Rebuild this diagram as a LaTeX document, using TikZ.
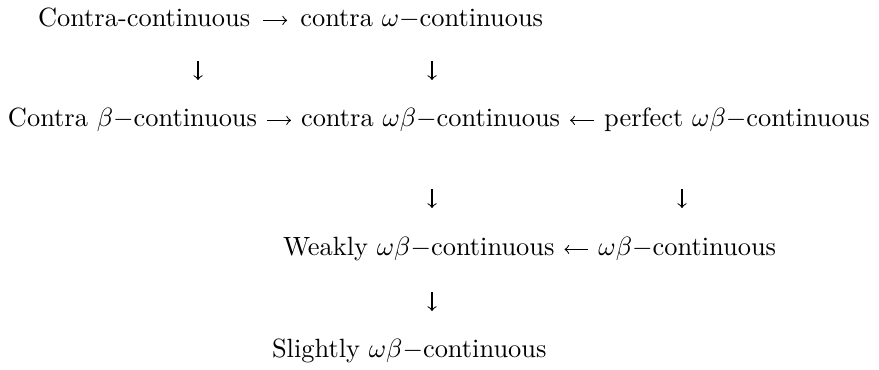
\documentclass[tikz,border=0pt]{standalone}
\usepackage{amsmath,amssymb}
\usetikzlibrary{positioning}

\begin{document}
\begin{tikzpicture}[
  x=0.3788pt, y=-0.3788pt,
  txt/.style={inner sep=0pt, outer sep=0pt},
  arrow/.style={->, line width=0.4pt},
  harrow/.style={arrow, shorten <=3.8pt, shorten >=3.8pt},
  node distance=16.67pt
]
\useasboundingbox (0,0) rectangle (879,370);

% ── Row 1 ────────────────────────────────────────────────────
\node[txt, anchor=base west] (cc)  at (38,27) {Contra-continuous};
\node[txt, base right=19pt of cc]  (cwc) {contra $\omega-$continuous};

% ── Row 2 ────────────────────────────────────────────────────
\node[txt, anchor=base west] (cbc)  at (8,127) {Contra $\beta-$continuous};
\node[txt, base right=of cbc]  (cwbc) {contra $\omega\beta-$continuous};
\node[txt, base right=of cwbc] (pwbc) {perfect $\omega\beta-$continuous};

% ── Row 3 ────────────────────────────────────────────────────
\node[txt, anchor=base west] (wwbc) at (283,256) {Weakly $\omega\beta-$continuous};
\node[txt, base right=of wwbc] (wbc) {$\omega\beta-$continuous};

% ── Row 4 ────────────────────────────────────────────────────
\node[txt, anchor=base west] (swbc) at (272,358) {Slightly $\omega\beta-$continuous};

% ── Horizontal arrows ────────────────────────────────────────
\draw[harrow, shorten <=5pt, shorten >=5pt] ([yshift=2.5pt]cc.base east) -- ([yshift=2.5pt]cwc.base west);
\draw[harrow] ([yshift=2.5pt]cbc.base east)  -- ([yshift=2.5pt]cwbc.base west);
\draw[harrow] ([yshift=2.5pt]pwbc.base west) -- ([yshift=2.5pt]cwbc.base east);
\draw[harrow] ([yshift=2.5pt]wbc.base west)  -- ([yshift=2.5pt]wwbc.base east);

% ── Vertical arrows ──────────────────────────────────────────
\coordinate (v1a) at (198,61);  \coordinate (v1b) at (198,80);
\coordinate (v2a) at (432,61);  \coordinate (v2b) at (432,80);
\coordinate (v3a) at (432,189); \coordinate (v3b) at (432,208);
\coordinate (v4a) at (682,189); \coordinate (v4b) at (682,208);
\coordinate (v5a) at (432,292); \coordinate (v5b) at (432,311);
\draw[arrow] (v1a) -- (v1b);
\draw[arrow] (v2a) -- (v2b);
\draw[arrow] (v3a) -- (v3b);
\draw[arrow] (v4a) -- (v4b);
\draw[arrow] (v5a) -- (v5b);
\end{tikzpicture}
\end{document}
